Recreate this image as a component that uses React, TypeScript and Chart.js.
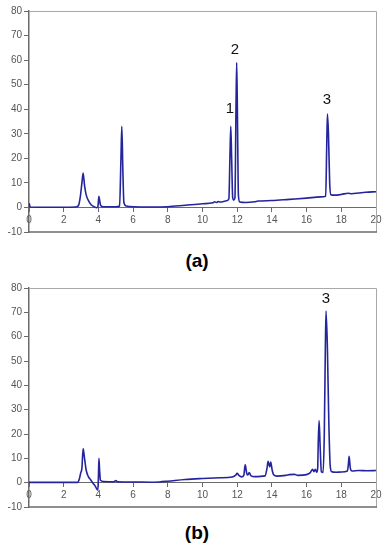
import React, { useEffect, useRef } from "react";
import { Chart, registerables } from "chart.js";

Chart.register(...registerables);

// ---- data (a) ----
const timeA = [0, 0.02, 0.06, 1.0, 2.0, 2.7, 2.85, 2.95, 3.05, 3.12, 3.2, 3.3, 3.45, 3.6, 3.75, 3.9, 3.97, 4.03, 4.08, 4.13, 4.3, 5.0, 5.22, 5.3, 5.35, 5.41, 5.47, 5.6, 6.0, 7.0, 8.0, 9.0, 10.0, 10.6, 10.7, 10.8, 10.9, 11.0, 11.4, 11.52, 11.58, 11.63, 11.68, 11.74, 11.8, 11.87, 11.93, 11.97, 12.01, 12.07, 12.15, 12.5, 13.0, 13.2, 14.0, 15.0, 16.0, 16.8, 17.1, 17.16, 17.2, 17.26, 17.33, 17.4, 17.6, 18.0, 18.4, 18.6, 19.0, 19.4, 20.0];
const signalA = [0, 1.5, 0.2, 0.1, 0.1, 0.2, 0.8, 4, 10, 14, 9, 5, 2.5, 1, 0.3, -0.1, 0.3, 4.5, 2.5, 0.8, 0.3, 0.3, 0.6, 20, 33, 15, 2, 0.6, 0.3, 0.2, 0.3, 0.9, 1.5, 1.9, 2.3, 2.0, 2.4, 2.2, 2.7, 3.5, 20, 33, 20, 4, 3, 4, 40, 59, 40, 5, 2.2, 2.0, 2.3, 2.6, 2.8, 3.3, 3.8, 4.3, 4.6, 25, 38, 30, 10, 5.2, 5.0, 5.3, 5.8, 5.6, 5.9, 6.2, 6.4];
const peakLabelsA = ["1", "2", "3"];
const peakLabelXA = [11.58, 11.87, 17.17];
const peakLabelYA = [40, 64, 44];

// ---- data (b) ----
const timeB = [0, 1, 2, 2.8, 2.9, 2.98, 3.05, 3.12, 3.2, 3.3, 3.42, 3.55, 3.7, 3.8, 3.9, 3.97, 4.0, 4.03, 4.07, 4.12, 4.3, 4.9, 5.0, 5.1, 6, 7, 7.5, 8, 9, 10, 11, 11.7, 11.9, 12.0, 12.1, 12.25, 12.38, 12.46, 12.56, 12.62, 12.69, 12.8, 13, 13.6, 13.72, 13.78, 13.84, 13.88, 13.93, 14.02, 14.1, 14.3, 14.8, 15.0, 15.3, 15.5, 16.0, 16.2, 16.35, 16.42, 16.5, 16.58, 16.64, 16.67, 16.72, 16.78, 16.85, 16.95, 17.02, 17.08, 17.12, 17.2, 17.28, 17.36, 17.45, 17.7, 18, 18.35, 18.4, 18.45, 18.52, 18.62, 19, 19.5, 20];
const signalB = [0.1, 0.1, 0.1, 0.1, 1.5, 4, 6, 14, 10, 5, 2.5, 1.2, -0.3, -1.2, -2.5, -3, 2, 10, 5, 1, 0.5, 0.4, 0.9, 0.4, 0.3, 0.2, 0.3, 0.6, 1.3, 1.7, 2.0, 2.3, 3.0, 3.8, 3.0, 2.4, 3, 7.3, 3.5, 3.2, 4.2, 2.8, 2.5, 2.8, 6, 8.8, 7.2, 6.5, 8.5, 5, 3.3, 2.7, 3.0, 3.3, 3.4, 3.0, 3.3, 4.0, 5.5, 4.5, 5.5, 4.3, 6, 16, 25.5, 15, 4.5, 4.2, 20, 55, 70.5, 55, 25, 7, 4.5, 4.3, 4.4, 4.8, 7, 10.8, 6, 4.8, 5.0, 4.9, 5.0];
const peakLabelsB = ["3"];
const peakLabelXB = [17.12];
const peakLabelYB = [75.5];

// ---- axes ----
const xTicks = [0, 2, 4, 6, 8, 10, 12, 14, 16, 18, 20];
const yTicks = [-10, 0, 10, 20, 30, 40, 50, 60, 70, 80];

const FONT = "'Liberation Sans', Arial, sans-serif";
const LINE = "#24249c";
const AXIS = "#6a6a6a";
const FRAME = "#a8a8a8";

function makeConfig(times: number[], values: number[], labels: string[], lx: number[], ly: number[], pad: { top: number; bottom: number }) {
  const points = times.map((t, i) => ({ x: t, y: values[i] }));
  const framePlugin = {
    id: "frame",
    beforeDatasetsDraw(chart: any) {
      const { ctx, chartArea: a } = chart;
      ctx.save();
      ctx.lineWidth = 1;
      ctx.strokeStyle = FRAME;
      ctx.beginPath();
      ctx.moveTo(a.left, a.top + 0.5);
      ctx.lineTo(a.right + 0.5, a.top + 0.5);
      ctx.lineTo(a.right + 0.5, a.bottom);
      ctx.stroke();
      ctx.strokeStyle = AXIS;
      ctx.lineWidth = 1.5;
      ctx.beginPath();
      ctx.moveTo(a.left, a.bottom);
      ctx.lineTo(a.right + 1, a.bottom);
      ctx.stroke();
      ctx.restore();
    },
    afterDatasetsDraw(chart: any) {
      const { ctx } = chart;
      const xs = chart.scales.x;
      const ys = chart.scales.y;
      ctx.save();
      ctx.fillStyle = "#111";
      ctx.font = `15px ${FONT}`;
      ctx.textAlign = "center";
      ctx.textBaseline = "middle";
      labels.forEach((l, i) => {
        ctx.fillText(l, xs.getPixelForValue(lx[i]), ys.getPixelForValue(ly[i]));
      });
      ctx.restore();
    },
  };
  return {
    type: "line" as const,
    data: {
      datasets: [
        {
          data: points,
          borderColor: LINE,
          borderWidth: 1.6,
          pointRadius: 0,
          fill: false,
          cubicInterpolationMode: "monotone" as const,
        },
      ],
    },
    options: {
      animation: false as const,
      responsive: false,
      devicePixelRatio: 1,
      layout: { padding: { left: 0, right: 13, top: pad.top, bottom: pad.bottom } },
      plugins: { legend: { display: false }, tooltip: { enabled: false } },
      scales: {
        x: {
          type: "linear" as const,
          position: { y: 0 } as any,
          min: 0,
          max: 20,
          afterBuildTicks: (s: any) => {
            s.ticks = xTicks.map((v) => ({ value: v }));
          },
          ticks: { autoSkip: false, maxRotation: 0, color: "#555", font: { family: FONT, size: 10 }, padding: 3 },
          grid: { drawOnChartArea: false, drawTicks: true, tickLength: 4, color: AXIS },
          border: { display: true, color: AXIS, width: 1 },
        },
        y: {
          type: "linear" as const,
          min: -10,
          max: 80,
          afterBuildTicks: (s: any) => {
            s.ticks = yTicks.map((v) => ({ value: v }));
          },
          afterFit: (s: any) => {
            s.width = 29;
          },
          ticks: { color: "#555", font: { family: FONT, size: 10 }, padding: 2 },
          grid: { drawOnChartArea: false, drawTicks: true, tickLength: 5, color: AXIS },
          border: { display: true, color: AXIS, width: 1.5 },
        },
      },
    },
    plugins: [framePlugin],
  };
}

function ChartCanvas(props: { top: number; height: number; cfg: any }) {
  const ref = useRef<HTMLCanvasElement | null>(null);
  useEffect(() => {
    if (!ref.current) return;
    const chart = new Chart(ref.current, props.cfg);
    return () => chart.destroy();
  }, []);
  return (
    <canvas
      ref={ref}
      width={389}
      height={props.height}
      style={{ position: "absolute", left: 0, top: props.top, width: 389, height: props.height }}
    />
  );
}

export default function App() {
  const cfgA = makeConfig(timeA, signalA, peakLabelsA, peakLabelXA, peakLabelYA, { top: 11, bottom: 10 });
  const cfgB = makeConfig(timeB, signalB, peakLabelsB, peakLabelXB, peakLabelYB, { top: 18, bottom: 8 });
  const caption = (text: string, top: number) => (
    <div
      style={{
        position: "absolute",
        left: 0,
        top,
        width: 394,
        textAlign: "center",
        fontFamily: FONT,
        fontWeight: "bold",
        fontSize: 19,
        lineHeight: "19px",
        color: "#000",
      }}
    >
      {text}
    </div>
  );
  return (
    <div style={{ position: "absolute", left: 0, top: 0, width: 389, height: 550, background: "#fff", overflow: "hidden" }}>
      <ChartCanvas top={0} height={242} cfg={cfgA} />
      {caption("(a)", 251)}
      <ChartCanvas top={270} height={245} cfg={cfgB} />
      {caption("(b)", 523)}
    </div>
  );
}
